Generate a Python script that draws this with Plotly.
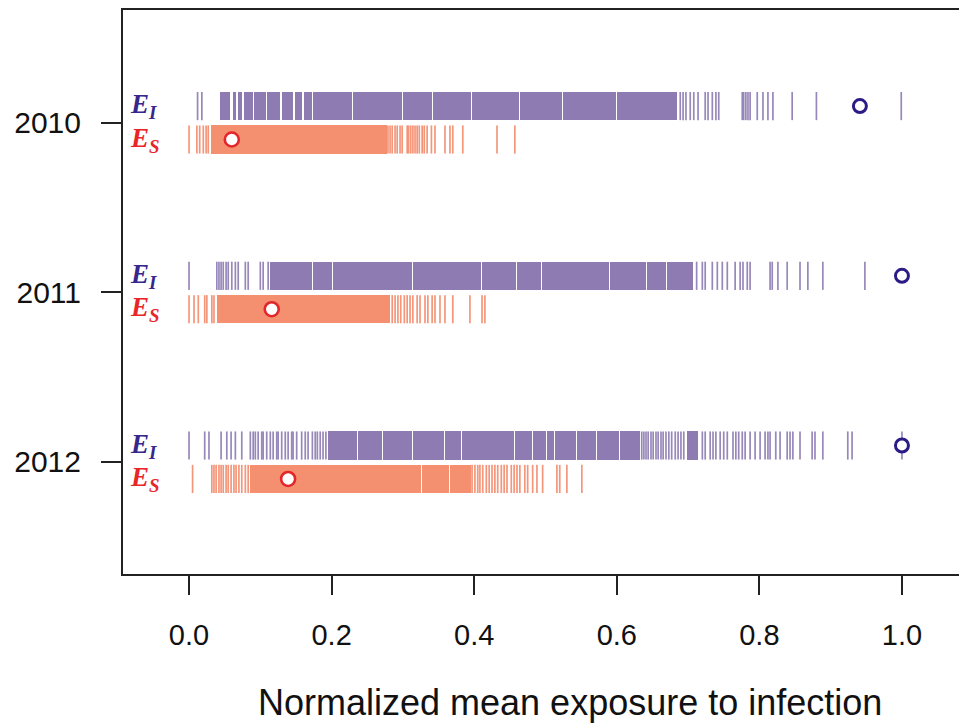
import plotly.graph_objects as go

# ---------------- data ----------------
years = ["2010", "2011", "2012"]

EI_means = [0.941, 1.000, 1.000]
ES_means = [0.060, 0.116, 0.139]

EI_2010_ticks = [0.012, 0.018, 0.689, 0.693, 0.697, 0.703, 0.708, 0.714, 0.724, 0.728, 0.734,
                 0.739, 0.743, 0.776, 0.778, 0.781, 0.784, 0.787, 0.797, 0.805, 0.812, 0.819,
                 0.846, 0.880, 0.999]
EI_2010_spans = [[0.0435, 0.0575], [0.0610, 0.0659], [0.0680, 0.0743], [0.0775, 0.0898],
                 [0.0915, 0.108], [0.110, 0.128], [0.131, 0.146], [0.148, 0.158],
                 [0.161, 0.173], [0.174, 0.229], [0.230, 0.299], [0.300, 0.341],
                 [0.342, 0.396], [0.397, 0.463], [0.464, 0.523], [0.524, 0.599],
                 [0.600, 0.635], [0.636, 0.646], [0.647, 0.667], [0.668, 0.684]]
ES_2010_ticks = [0.000, 0.011, 0.015, 0.020, 0.024, 0.027, 0.279, 0.282, 0.285, 0.289, 0.292,
                 0.296, 0.299, 0.306, 0.308, 0.311, 0.314, 0.317, 0.320, 0.323, 0.327, 0.330,
                 0.334, 0.340, 0.345, 0.359, 0.366, 0.370, 0.384, 0.432, 0.457]
ES_2010_spans = [[0.031, 0.036], [0.037, 0.277]]

EI_2011_ticks = [0.000, 0.039, 0.042, 0.045, 0.048, 0.052, 0.055, 0.060, 0.065, 0.069, 0.079,
                 0.083, 0.100, 0.104, 0.111, 0.712, 0.720, 0.724, 0.734, 0.741, 0.748, 0.755,
                 0.766, 0.773, 0.777, 0.783, 0.787, 0.815, 0.818, 0.826, 0.839, 0.857, 0.868,
                 0.889, 0.948]
EI_2011_spans = [[0.114, 0.155], [0.156, 0.173], [0.174, 0.201], [0.202, 0.221], [0.222, 0.242],
                 [0.243, 0.313], [0.314, 0.410], [0.411, 0.459], [0.460, 0.494], [0.495, 0.517],
                 [0.518, 0.531], [0.532, 0.545], [0.546, 0.566], [0.567, 0.589], [0.590, 0.594],
                 [0.595, 0.641], [0.642, 0.669], [0.670, 0.688], [0.689, 0.707]]
ES_2011_ticks = [0.000, 0.007, 0.013, 0.022, 0.025, 0.032, 0.035, 0.285, 0.289, 0.293, 0.297,
                 0.302, 0.306, 0.310, 0.314, 0.320, 0.324, 0.331, 0.335, 0.341, 0.345, 0.352,
                 0.359, 0.370, 0.394, 0.411, 0.415]
ES_2011_spans = [[0.039, 0.282]]

EI_2012_ticks = [0.000, 0.022, 0.028, 0.045, 0.053, 0.059, 0.065, 0.074, 0.086, 0.090, 0.093,
                 0.097, 0.102, 0.104, 0.109, 0.114, 0.118, 0.123, 0.125, 0.130, 0.135, 0.139,
                 0.144, 0.146, 0.151, 0.158, 0.163, 0.167, 0.173, 0.177, 0.180, 0.184, 0.188,
                 0.192, 0.635, 0.638, 0.641, 0.644, 0.648, 0.651, 0.655, 0.658, 0.662, 0.665,
                 0.669, 0.673, 0.677, 0.682, 0.686, 0.690, 0.694, 0.720, 0.724, 0.731, 0.735,
                 0.739, 0.745, 0.750, 0.755, 0.763, 0.767, 0.771, 0.776, 0.780, 0.787, 0.794,
                 0.801, 0.808, 0.812, 0.815, 0.823, 0.829, 0.839, 0.843, 0.847, 0.857, 0.874,
                 0.878, 0.889, 0.924, 0.930, 1.000]
EI_2012_spans = [[0.195, 0.236], [0.237, 0.271], [0.272, 0.313], [0.314, 0.358], [0.359, 0.382],
                 [0.383, 0.456], [0.457, 0.481], [0.482, 0.501], [0.502, 0.512], [0.513, 0.524],
                 [0.525, 0.543], [0.544, 0.559], [0.560, 0.571], [0.572, 0.594], [0.595, 0.603],
                 [0.604, 0.633], [0.698, 0.714]]
ES_2012_ticks = [0.005, 0.032, 0.035, 0.038, 0.042, 0.045, 0.048, 0.052, 0.055, 0.059, 0.063,
                 0.066, 0.070, 0.074, 0.079, 0.083, 0.397, 0.401, 0.405, 0.408, 0.412, 0.417,
                 0.421, 0.425, 0.429, 0.433, 0.438, 0.442, 0.446, 0.452, 0.456, 0.460, 0.464,
                 0.471, 0.475, 0.482, 0.488, 0.496, 0.516, 0.520, 0.530, 0.551]
ES_2012_spans = [[0.085, 0.326], [0.327, 0.365], [0.366, 0.395]]

EI_ticks = [EI_2010_ticks, EI_2011_ticks, EI_2012_ticks]
EI_spans = [EI_2010_spans, EI_2011_spans, EI_2012_spans]
ES_ticks = [ES_2010_ticks, ES_2011_ticks, ES_2012_ticks]
ES_spans = [ES_2010_spans, ES_2011_spans, ES_2012_spans]

x_tickvals = [0.0, 0.2, 0.4, 0.6, 0.8, 1.0]
x_ticktext = ["0.0", "0.2", "0.4", "0.6", "0.8", "1.0"]
x_title = "Normalized mean exposure to infection"

# ---------------- style ----------------
EI_OFF, ES_OFF, HALF = -0.097, 0.100, 0.083
EI_SOLID, EI_LINE, EI_DOT, EI_TXT = "#8D7BB2", "rgba(138,119,176,0.88)", "#2B1B86", "#35278C"
ES_SOLID, ES_LINE, ES_DOT, ES_TXT = "#F4906F", "rgba(243,136,104,0.88)", "#E3262A", "#E8262A"

fig = go.Figure()

def add_rug(ticks, spans, yc, solid, line):
    xs, ys = [], []
    for t in ticks:
        xs += [t, t, None]
        ys += [yc - HALF, yc + HALF, None]
    fig.add_trace(go.Bar(orientation="h", y=[yc] * len(spans),
                         base=[s[0] for s in spans], x=[s[1] - s[0] for s in spans],
                         width=2 * HALF, marker=dict(color=solid, line=dict(width=0)),
                         showlegend=False, hoverinfo="skip"))
    fig.add_trace(go.Scatter(x=xs, y=ys, mode="lines", line=dict(color=line, width=1.7),
                             showlegend=False, hoverinfo="skip"))

for i in range(len(years)):
    add_rug(EI_ticks[i], EI_spans[i], i + EI_OFF, EI_SOLID, EI_LINE)
    add_rug(ES_ticks[i], ES_spans[i], i + ES_OFF, ES_SOLID, ES_LINE)

fig.add_trace(go.Scatter(x=EI_means, y=[i + EI_OFF for i in range(len(years))], mode="markers",
                         marker=dict(symbol="circle", size=13, color="white",
                                     line=dict(color=EI_DOT, width=3)), showlegend=False))
fig.add_trace(go.Scatter(x=ES_means, y=[i + ES_OFF for i in range(len(years))], mode="markers",
                         marker=dict(symbol="circle", size=14, color="white",
                                     line=dict(color=ES_DOT, width=2.6)), showlegend=False))

for i in range(len(years)):
    fig.add_annotation(x=-0.085, y=i + EI_OFF, xref="x", yref="y", xanchor="left", yanchor="middle",
                       text="<b><i>E<sub>I</sub></i></b>", showarrow=False,
                       font=dict(family="Liberation Serif", size=27, color=EI_TXT))
    fig.add_annotation(x=-0.085, y=i + ES_OFF, xref="x", yref="y", xanchor="left", yanchor="middle",
                       text="<b><i>E<sub>S</sub></i></b>", showarrow=False,
                       font=dict(family="Liberation Serif", size=27, color=ES_TXT))

fig.add_annotation(x=0.534, y=-0.2287, xref="x", yref="paper", xanchor="center", yanchor="middle",
                   text=x_title, showarrow=False,
                   font=dict(family="Liberation Sans", size=36, color="#111"))

fig.update_layout(
    width=959, height=724, barmode="overlay", bargap=0,
    margin=dict(l=123, r=0, t=10, b=150),
    paper_bgcolor="white", plot_bgcolor="white",
    font=dict(family="Liberation Sans", color="#111"),
    xaxis=dict(range=[-0.0926, 1.08], tickvals=x_tickvals, ticktext=x_ticktext,
               showgrid=False, zeroline=False, showline=True, mirror=True,
               linecolor="#222", linewidth=2, ticks="outside", ticklen=19, tickwidth=1.5,
               tickcolor="#222", tickfont=dict(size=29), ticklabelstandoff=15),
    yaxis=dict(range=[2.66, -0.663], tickvals=[0, 1, 2], ticktext=years,
               showgrid=False, zeroline=False, showline=True, mirror=False,
               linecolor="#222", linewidth=2, ticks="outside", ticklen=20, tickwidth=1.5,
               tickcolor="#222", tickfont=dict(size=30), ticklabelstandoff=14),
)

fig.write_html("out.html")
